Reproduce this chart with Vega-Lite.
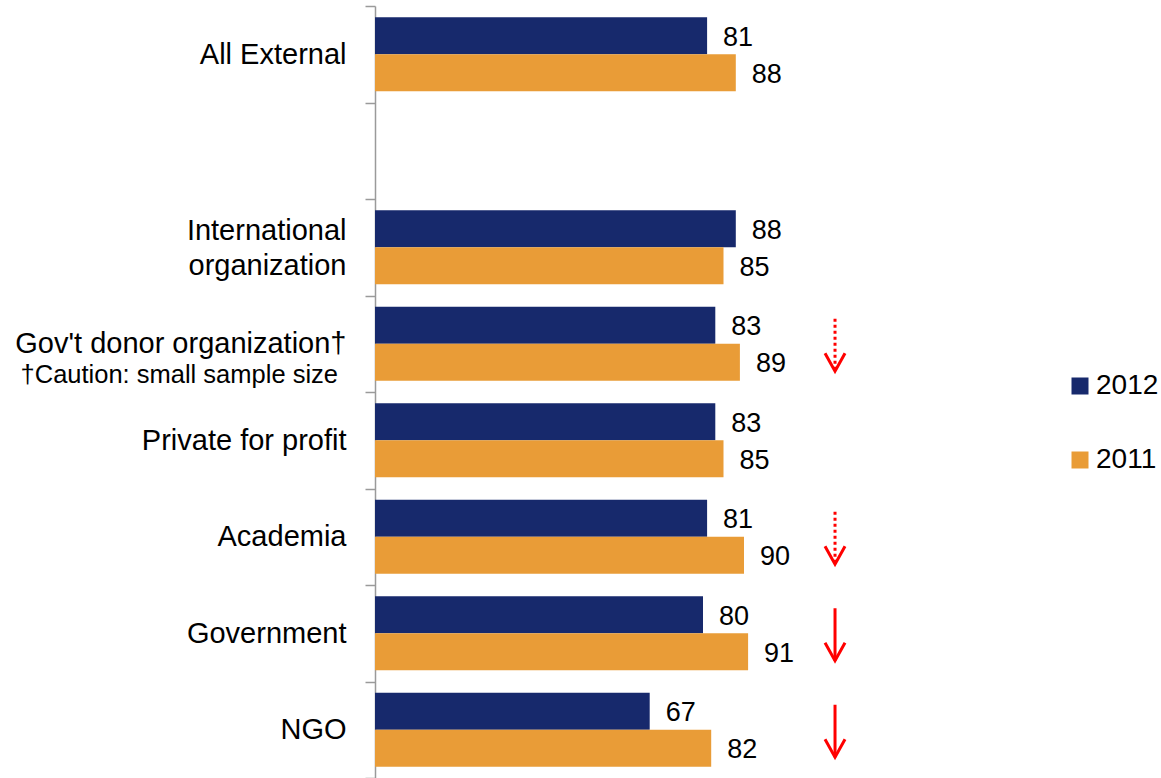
{
  "$schema": "https://vega.github.io/schema/vega-lite/v6.json",
  "autosize": {"type": "none"},
  "width": 410,
  "height": 772,
  "padding": {"left": 375, "top": 6, "right": 376, "bottom": 0},
  "config": {"view": {"stroke": null}, "font": "Liberation Sans"},
  "datasets": {
    "bars": [
      {"cat": "All External", "year": "2012", "value": 81},
      {"cat": "All External", "year": "2011", "value": 88},
      {"cat": "International organization", "year": "2012", "value": 88},
      {"cat": "International organization", "year": "2011", "value": 85},
      {"cat": "Gov't donor organization†", "year": "2012", "value": 83},
      {"cat": "Gov't donor organization†", "year": "2011", "value": 89},
      {"cat": "Private for profit", "year": "2012", "value": 83},
      {"cat": "Private for profit", "year": "2011", "value": 85},
      {"cat": "Academia", "year": "2012", "value": 81},
      {"cat": "Academia", "year": "2011", "value": 90},
      {"cat": "Government", "year": "2012", "value": 80},
      {"cat": "Government", "year": "2011", "value": 91},
      {"cat": "NGO", "year": "2012", "value": 67},
      {"cat": "NGO", "year": "2011", "value": 82}
    ],
    "arrows": [
      {"cat": "Gov't donor organization†", "style": "dotted"},
      {"cat": "Academia", "style": "dotted"},
      {"cat": "Government", "style": "solid"},
      {"cat": "NGO", "style": "solid"}
    ],
    "notes": [
      {"cat": "Gov't donor organization†", "note": "†Caution: small sample size"}
    ]
  },
  "layer": [
    {
      "data": {"name": "bars"},
      "mark": {"type": "bar"},
      "encoding": {
        "y": {
          "field": "cat", "type": "nominal", "title": null,
          "scale": {"domain": ["All External", "blank", "International organization", "Gov't donor organization†", "Private for profit", "Academia", "Government", "NGO"], "paddingInner": 0, "paddingOuter": 0},
          "axis": {
            "tickBand": "extent", "labelFontSize": 29, "labelColor": "#000000", "tickSize": 10,
            "tickColor": "#9A9A9A", "domainColor": "#9A9A9A", "domainWidth": 1.5, "tickWidth": 1.5,
            "labelPadding": 19, "labelLimit": 400, "labelLineHeight": 35,
            "labelOffset": {"condition": {"test": "datum.value == 'International organization'", "value": -17}, "value": 0},
            "labelExpr": "datum.value == 'International organization' ? ['International', 'organization'] : (datum.value == 'blank' ? '' : datum.value)"
          }
        },
        "yOffset": {"field": "year", "type": "nominal", "scale": {"domain": ["2012", "2011"], "paddingInner": 0, "paddingOuter": 0.304}},
        "x": {"field": "value", "type": "quantitative", "scale": {"domain": [0, 100], "nice": false}, "axis": null},
        "color": {
          "field": "year", "type": "nominal",
          "scale": {"domain": ["2012", "2011"], "range": ["#17296C", "#E99C37"]},
          "legend": {"title": null, "orient": "none", "legendX": 691, "legendY": 366, "symbolType": "square", "symbolSize": 289, "symbolStrokeWidth": 0, "labelFontSize": 28, "labelColor": "#000000", "labelOffset": 2, "rowPadding": 46, "padding": 0}
        }
      }
    },
    {
      "data": {"name": "bars"},
      "mark": {"type": "text", "align": "left", "baseline": "middle", "dx": 16, "dy": 2, "fontSize": 27, "color": "#000000"},
      "encoding": {
        "y": {"field": "cat", "type": "nominal", "scale": {"domain": ["All External", "blank", "International organization", "Gov't donor organization†", "Private for profit", "Academia", "Government", "NGO"]}},
        "yOffset": {"field": "year", "type": "nominal"},
        "x": {"field": "value", "type": "quantitative"},
        "text": {"field": "value", "type": "quantitative"}
      }
    },
    {
      "data": {"name": "arrows"},
      "mark": {"type": "rule", "color": "#FF0000", "strokeWidth": 3},
      "encoding": {
        "y": {"field": "cat", "type": "nominal", "bandPosition": 0.24},
        "y2": {"field": "cat", "bandPosition": 0.785},
        "x": {"datum": 112.2},
        "strokeDash": {"field": "style", "type": "nominal", "scale": {"domain": ["dotted", "solid"], "range": [[3, 3], [1, 0]]}, "legend": null}
      }
    },
    {
      "data": {"name": "arrows"},
      "mark": {"type": "point", "shape": "M-1,-1.8L0,0L1,-1.8", "size": 400, "filled": false, "color": "#FF0000", "strokeWidth": 3, "opacity": 1},
      "encoding": {
        "y": {"field": "cat", "type": "nominal", "bandPosition": 0.785},
        "x": {"datum": 112.2}
      }
    },
    {
      "data": {"name": "notes"},
      "mark": {"type": "text", "align": "right", "baseline": "middle", "dx": -37, "dy": 31, "fontSize": 25.5, "color": "#000000"},
      "encoding": {
        "y": {"field": "cat", "type": "nominal"},
        "x": {"datum": 0},
        "text": {"field": "note"}
      }
    }
  ]
}
